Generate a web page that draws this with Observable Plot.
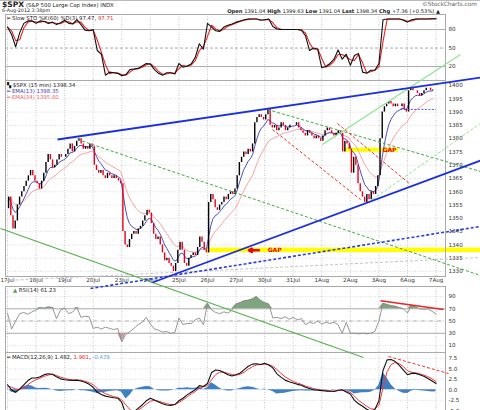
<!DOCTYPE html>
<html>
<head>
<meta charset="utf-8">
<script src="https://cdn.jsdelivr.net/npm/d3@7"></script>
<script src="https://cdn.jsdelivr.net/npm/@observablehq/plot@0.6"></script>
<style>
html,body{margin:0;padding:0;background:#fff;}
#chart{position:relative;width:480px;height:410px;overflow:hidden;background:#fff;font-family:"DejaVu Sans",sans-serif;border-top:1px solid #bbb;box-sizing:border-box;}
#chart svg{position:absolute;left:0;}
.t{position:absolute;white-space:nowrap;line-height:1;color:#222;font-size:5.4px;}
</style>
</head>
<body>
<div id="chart"></div>
<script>
// ---------------- data ----------------
const days = ["17Jul","18Jul","19Jul","20Jul","23Jul","24Jul","25Jul","26Jul","27Jul","30Jul","31Jul","1Aug","2Aug","3Aug","6Aug","7Aug"];
const barsPerDay = 13;            // 30-minute sampling of the 15-min chart
const firstOpen = 1353.64;
const closes = [
  1358,1351,1346,1349,1355,1358,1360,1362,1364,1366,1368,1366,1364, // 17Jul
  1363,1361,1364,1367,1371,1374,1372,1369,1370,1372,1374,1373,1373, // 18Jul
  1374,1376,1378,1375,1377,1379,1380,1378,1376,1377,1376,1378,1377, // 19Jul
  1370,1368,1367,1368,1366,1365,1367,1366,1365,1366,1365,1364,1363, // 20Jul
  1345,1340,1339,1342,1344,1345,1344,1346,1347,1349,1351,1353,1352, // 23Jul
  1348,1344,1342,1343,1340,1337,1334,1335,1333,1332,1330,1333,1338, // 24Jul
  1341,1338,1333,1332,1335,1336,1337,1336,1339,1343,1341,1338,1337, // 25Jul
  1356,1359,1357,1354,1353,1355,1356,1358,1357,1359,1360,1359,1361, // 26Jul
  1366,1371,1373,1375,1374,1376,1375,1378,1386,1388,1389,1388,1387, // 27Jul
  1389,1391,1385,1384,1385,1383,1384,1386,1385,1383,1384,1385,1385, // 30Jul
  1385,1386,1384,1383,1382,1381,1383,1382,1381,1380,1381,1380,1379, // 31Jul
  1381,1383,1384,1383,1382,1381,1382,1383,1382,1375,1379,1378,1376, // 1Aug
  1367,1373,1370,1363,1360,1358,1356,1359,1357,1360,1359,1362,1366, // 2Aug
  1380,1390,1392,1393,1394,1393,1392,1393,1392,1392,1393,1391,1390, // 3Aug
  1398,1399,1398,1398,1397,1396,1397,1398,1399,1399,1398,1398.34    // 6Aug
];
const indPerDay = 7;              // hourly sampling of the indicators
const stoK = [84,72,52,75,90,94,94,90,94,93, 90,92,88,91,95,90,89,96,88,79, 78,80,46,40,6,11,10,9,5,7,
  15,16,17,21,25,24,15,9,6,10, 10,8,25,19,21,24,35,57,48,90, 84,78,77,84,87,89,92,94,96,97,
  97,97,95,96,97,85,81,80,80,80, 80,80,79,70,46,50,48,18,20,25, 32,47,32,40,22,38,41,11,9,14,
  14,25,96,97,97,97,97,95,92,96, 97,97,97,97,97.5,97.47];
const rsi14 = [63,37,50,62,64,61,65,68,72,71, 73,72,54,68,71,62,65,72,56,58, 57,38,40,37,40,38,36,38,16,28,
  33,38,44,48,56,45,37,35,32,33, 30,31,55,44,46,46,52,55,44,79, 68,64,62,65,63,68,78,80,83,84,
  86,90,84,80,78,55,56,54,57,53, 56,52,54,44,48,46,50,45,48,46, 48,44,30,48,30,30,29,30,29,30,
  33,50,79,77,75,74,72,70,63,76, 73,70,69,70,66,61.23];
const macdLine = [1.2,0.0,-0.6,0.2,1.2,2.2,2.8,2.8,3.1,3.6, 3.8,3.7,3.1,2.6,2.4,2.3,2.2,2.3,2.1,1.8,
  1.3,0.6,-0.6,-1.1,-1.5,-1.7,-1.9,-2.0,-3.0,-5.8, -6.0,-5.2,-4.4,-3.6,-2.6,-2.0,-2.4,-2.9,-3.3,-3.6,
  -3.7,-3.5,-2.6,-2.0,-1.2,-0.6,0.0,1.0,0.8,1.5, 4.1,4.7,4.6,4.1,3.6,3.3,3.6,4.0,4.8,5.6,
  6.1,6.2,6.0,6.3,5.9,5.2,3.8,3.0,2.3,1.9, 1.6,1.3,1.1,0.6,0.3,0.0,-0.1,-0.2,-0.3,-0.3,
  -0.4,-0.1,0.0,-0.5,-1.0,-2.5,-3.3,-3.9,-4.6,-5.1, -4.7,-2.6,4.6,7.1,7.2,6.7,5.8,4.7,3.6,3.9,
  3.9,3.6,3.2,2.7,2.1,1.482];
const signalLine = [0.9,0.6,0.2,0.1,0.5,1.2,1.9,2.4,2.8,3.2, 3.5,3.7,3.4,3.0,2.7,2.5,2.4,2.3,2.3,2.0,
  1.7,1.2,0.3,-0.4,-0.9,-1.3,-1.6,-1.8,-2.4,-3.6, -4.7,-5.2,-4.8,-4.2,-3.4,-2.7,-2.5,-2.7,-3.0,-3.3,
  -3.5,-3.5,-3.0,-2.4,-1.7,-1.0,-0.4,0.4,0.7,1.0, 2.4,3.6,4.2,4.2,3.9,3.6,3.5,3.7,4.2,4.9,
  5.5,5.9,6.0,6.1,6.0,5.6,4.8,3.9,3.1,2.5, 2.0,1.6,1.3,0.9,0.6,0.3,0.1,-0.1,-0.2,-0.3,
  -0.3,-0.2,-0.1,-0.3,-0.6,-1.5,-2.5,-3.2,-3.9,-4.5, -4.6,-3.7,0.5,4.3,6.0,6.5,6.2,5.5,4.5,4.2,
  4.0,3.8,3.5,3.1,2.6,1.961];
const priceTicks = [1330,1335,1340,1345,1350,1355,1360,1365,1370,1375,1380,1385,1390,1395,1400];
const stoTicks = [20,50,80];
const rsiTicks = [10,30,50,70,90];
const macdTicks = [-5,-2.5,0,2.5,5,7.5];
// drawn annotations, in (trading day, price) units
const blueChannel = [{x1:1.75,y1:1380.05,x2:16.555,y2:1403.39},{x1:5.075,y1:1326.23,x2:16.555,y2:1372.15}];
const blueDashed = [{x1:2.905,y1:1323.97,x2:16.555,y2:1347.31}];
const grayDashed = [{x1:-0.07,y1:1326.98,x2:16.555,y2:1335.64}];
const greenSolid = [{x1:-0.245,y1:1346.56,x2:12.46,y2:1298.0}];
const greenDashed = [{x1:2.45,y1:1380.05,x2:16.555,y2:1328.87},{x1:9.10,y1:1391.34,x2:16.555,y2:1368.0}];
const lightGreenSolid = [{x1:11.025,y1:1378.17,x2:15.855,y2:1412.04}];
const lightGreenDashed = [{x1:12.775,y1:1357.47,x2:16.555,y2:1386.07}];
const redDashed = [{x1:9.275,y1:1383.82,x2:12.355,y2:1357.47},{x1:11.55,y1:1386.07,x2:14.105,y2:1363.12}];
const openLevel = [{x1:13.75,y1:1391,x2:15.0,y2:1391}];
const gaps = [{x1:7.0,x2:16.555,y1:1337.1,y2:1338.8,at:9.35},{x1:11.83,x2:13.69,y1:1374.9,y2:1376.4,at:13.37}];
const gapArrow = [{x1:8.8,x2:8.45,y:1337.95}];
const rsiTrend = [{x1:13.055,y1:83,x2:15.26,y2:69}];
const macdTrend = [{x1:13.335,y1:7.91,x2:15.435,y2:3.87}];

// ---------------- rows ----------------
const bars = closes.map((c,i)=>({t: Math.floor(i/barsPerDay) + (i%barsPerDay+0.5)/barsPerDay, open: i ? closes[i-1] : firstOpen, close: c}));
const ind = stoK.map((k,j)=>({t: j/indPerDay, k, rsi: rsi14[j], macd: macdLine[j], signal: signalLine[j]}));
const dayTicks = d3.range(days.length);
const xDomain = [-0.07, 15.33];
const ema = a => values => { let e = values[0]; for (let i = 1; i < values.length; i++) e += a*(values[i]-e); return e; };
const L = {x1:"x1",y1:"y1",x2:"x2",y2:"y2"};
const font = {fontFamily:"DejaVu Sans, sans-serif", fontSize:"5.6px", color:"#333", background:"transparent", overflow:"visible"};
const grid = {stroke:"#c8c8c8", strokeDasharray:"1,1.5"};
const plain = d => String(d);
const yAxis = (domain, ticks, fmt) => ({domain, axis:"right", ticks, tickSize:0, tickPadding:3, label:null, tickFormat: fmt || plain});

const chart = document.getElementById("chart");
function place(el, top){ el.style.top = top+"px"; chart.appendChild(el); }

// STO panel
place(Plot.plot({
  width:480, height:66, marginLeft:5, marginRight:35, marginTop:0, marginBottom:0, style:font,
  x:{domain:xDomain, axis:null},
  y:yAxis([-2.6,104.4], stoTicks),
  marks:[
    Plot.ruleX(dayTicks, grid),
    Plot.ruleY([20,80], {stroke:"#aaa"}),
    Plot.ruleY([50], {stroke:"#aaa", strokeDasharray:"3,2"}),
    Plot.lineY(ind, Plot.windowY({k:2, anchor:"end", reduce:"mean"}, {x:"t", y:"k", stroke:"#ee2222", strokeWidth:1.1})),
    Plot.lineY(ind, {x:"t", y:"k", stroke:"#111", strokeWidth:1.1}),
    Plot.frame({stroke:"#aaa"})
  ]
}), 13);

// Price panel
place(Plot.plot({
  width:480, height:205, marginLeft:5, marginRight:35, marginTop:0, marginBottom:9, style:font,
  x:{domain:xDomain, ticks:dayTicks, tickFormat:d=>days[d], tickSize:0, tickPadding:2, label:null},
  y:yAxis([1328.11,1401.88], priceTicks),
  marks:[
    Plot.ruleX(dayTicks, grid),
    Plot.ruleY(priceTicks, {stroke:"#dcdcdc", strokeDasharray:"1,1.5"}),
    Plot.rect(gaps, {x1:"x1", x2:"x2", y1:"y1", y2:"y2", fill:"#ffff00"}),
    Plot.lineY(bars, Plot.windowY({k:60, anchor:"end", reduce:ema(2/18)}, {x:"t", y:"close", stroke:"#f4a3a3", strokeWidth:1})),
    Plot.lineY(bars, Plot.windowY({k:30, anchor:"end", reduce:ema(2/7.5)}, {x:"t", y:"close", stroke:"#3a3ab4", strokeWidth:0.9})),
    Plot.ruleX(bars.filter(d=>d.close>=d.open), {x:"t", y1:"open", y2:"close", stroke:"#000", strokeWidth:1.4}),
    Plot.ruleX(bars.filter(d=>d.close<d.open), {x:"t", y1:"open", y2:"close", stroke:"#e8001c", strokeWidth:1.4}),
    Plot.link(openLevel, {...L, stroke:"#3344dd", strokeDasharray:"2,1.5", strokeWidth:0.9}),
    Plot.arrow(gapArrow, {x1:"x1", x2:"x2", y1:"y", y2:"y", stroke:"#ee0000", strokeWidth:2.5, headLength:5}),
    Plot.text(gaps, {x:"at", y:d=>(d.y1+d.y2)/2, text:()=>"GAP", fill:"#ee0000", fontWeight:"bold", fontSize:6}),
    Plot.frame({stroke:"#aaa"})
  ]
}), 79);

// RSI panel
place(Plot.plot({
  width:480, height:66, marginLeft:5, marginRight:35, marginTop:0, marginBottom:0, style:font,
  x:{domain:xDomain, axis:null},
  y:yAxis([-1.4,106.4], rsiTicks),
  marks:[
    Plot.ruleX(dayTicks, grid),
    Plot.ruleY([10,90], {stroke:"#dcdcdc", strokeDasharray:"1,1.5"}),
    Plot.ruleY([30,70], {stroke:"#aaa"}),
    Plot.ruleY([50], {stroke:"#aaa", strokeDasharray:"4,1.5,1,1.5"}),
    Plot.areaY(ind, {x:"t", y1:70, y2:d=>Math.max(70,d.rsi), fill:"#7fa57f"}),
    Plot.areaY(ind, {x:"t", y1:30, y2:d=>Math.min(30,d.rsi), fill:"#c49a9a"}),
    Plot.lineY(ind, {x:"t", y:"rsi", stroke:"#8a8a8a", strokeWidth:0.9}),
    Plot.link(rsiTrend, {...L, stroke:"#ee2222", strokeWidth:1.5}),
    Plot.frame({stroke:"#aaa"})
  ]
}), 285);

// MACD panel
place(Plot.plot({
  width:480, height:59, marginLeft:5, marginRight:35, marginTop:0, marginBottom:0, style:font,
  x:{domain:xDomain, axis:null},
  y:yAxis([-5.15,8.86], macdTicks, d => d.toFixed(1)),
  marks:[
    Plot.ruleX(dayTicks, grid),
    Plot.ruleY(macdTicks, {stroke:"#dcdcdc", strokeDasharray:"1,1.5"}),
    Plot.areaY(ind, {x:"t", y:d=>d.macd-d.signal, fill:"#3f7fc4", clip:true}),
    Plot.lineY(ind, {x:"t", y:"signal", stroke:"#f03a3a", strokeWidth:1, clip:true}),
    Plot.lineY(ind, {x:"t", y:"macd", stroke:"#111", strokeWidth:1.1, clip:true}),
    Plot.link(macdTrend, {...L, stroke:"#f03030", strokeDasharray:"3,2", strokeWidth:1}),
    Plot.frame({stroke:"#aaa"})
  ]
}), 351);

// annotation overlay spanning all panels (price units)
place(Plot.plot({
  width:480, height:410, marginLeft:5, marginRight:35, marginTop:0, marginBottom:0, style:{background:"transparent", overflow:"visible"},
  x:{domain:xDomain, axis:null},
  y:{domain:[1277.68,1431.99], axis:null},
  marks:[
    Plot.link(grayDashed, {...L, stroke:"#c4c4c4", strokeDasharray:"3,2", strokeWidth:1}),
    Plot.link(greenSolid, {...L, stroke:"#55b04a", strokeWidth:1.2}),
    Plot.link(greenDashed, {...L, stroke:"#44a844", strokeDasharray:"3,2", strokeWidth:1}),
    Plot.link(lightGreenSolid, {...L, stroke:"#8fe28f", strokeWidth:1.2}),
    Plot.link(lightGreenDashed, {...L, stroke:"#8fe28f", strokeDasharray:"3,2", strokeWidth:1}),
    Plot.link(redDashed, {...L, stroke:"#f03030", strokeDasharray:"3,2", strokeWidth:1}),
    Plot.link(blueDashed, {...L, stroke:"#2a3ee0", strokeDasharray:"3,2", strokeWidth:1.6}),
    Plot.link(blueChannel, {...L, stroke:"#1c2fe0", strokeWidth:1.8})
  ]
}), 0);

// ---------------- texts ----------------
function txt(html, left, top, extra){ const d = document.createElement("div"); d.className="t"; d.innerHTML = html; if (left !== null) d.style.left = left+"px"; d.style.top = top+"px"; if (extra) Object.assign(d.style, extra); chart.appendChild(d); return d; }
txt('<b style="font-size:7.6px">$SPX</b> (S&amp;P 500 Large Cap Index) INDX', 2, -0.5);
txt('©StockCharts.com', null, 1, {right:"3px", color:"#666", fontSize:"5.8px"});
txt('6-Aug-2012 3:38pm', 2, 8.4, {fontSize:"4.8px"});
txt('<b>Open</b> 1391.04 <b>High</b> 1399.63 <b>Low</b> 1391.04 <b>Last</b> 1398.34 <b>Chg</b> +7.36 (+0.53%) ▲', null, 8.2, {right:"40px", fontSize:"5.2px"});
txt('<span style="color:#111">━</span> Slow STO %K(60) %D(3) 97.47, <span style="color:#e22">97.71</span>', 7, 15);
txt('<span style="color:#111">▚</span> $SPX (15 min) 1398.34', 7, 82);
txt('<span style="color:#3a3ab4">━ EMA(13) 1398.35</span>', 7, 88);
txt('<span style="color:#e66">━ EMA(34) 1395.60</span>', 7, 94);
txt('<span style="color:#5a9a5a">▲</span> RSI(14) 61.23', 13, 287);
txt('<span style="color:#111">━</span> MACD(12,26,9) 1.482, <span style="color:#e22">1.961</span>, <span style="color:#5b9bd5">-0.479</span>', 7, 354);
</script>
</body>
</html>
